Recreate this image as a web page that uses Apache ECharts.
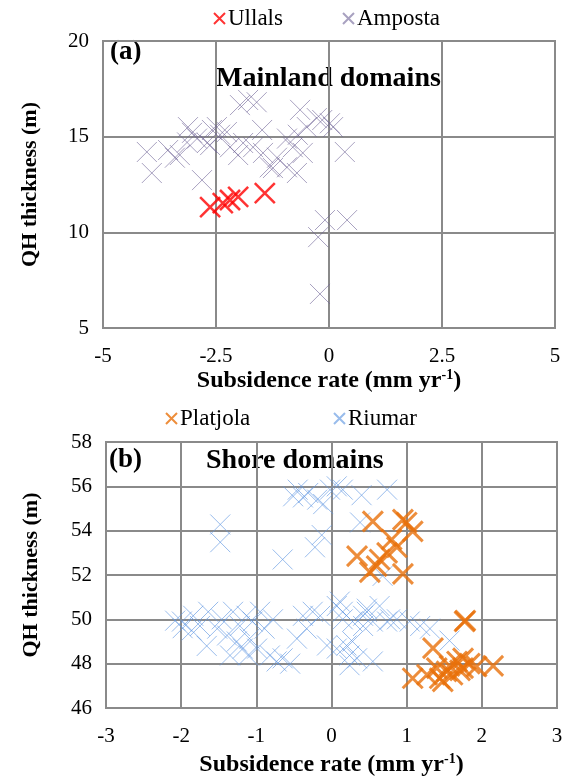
<!DOCTYPE html>
<html>
<head>
<meta charset="utf-8">
<script src="https://cdn.jsdelivr.net/npm/echarts@6/dist/echarts.min.js"></script>
<style>
  html, body { margin: 0; padding: 0; background: #fff; }
  #chart { width: 567px; height: 778px; }
</style>
</head>
<body>
<div id="chart"></div>
<script>
// (a) mainland domains
const ullals = [[-2.63, 11.32], [-2.35, 11.53], [-2.19, 11.69], [-2.01, 11.85], [-1.42, 12.05]];
const amposta = [
  [-1.79, 16.92], [-1.97, 16.65], [-1.6, 16.8], [-0.64, 16.4], [-0.27, 15.97], [0.02, 15.7],
  [-0.15, 15.87], [0.09, 15.5], [0.35, 14.2], [-4.03, 14.2], [-3.92, 13.1], [-3.56, 14.3],
  [-3.3, 14.04], [-3.12, 15.5], [-3.03, 15.2], [-2.92, 14.9], [-2.81, 12.73], [-2.7, 14.67],
  [-2.59, 15.35], [-2.48, 15.5], [-2.41, 15.1], [-2.63, 14.56], [-2.19, 14.45], [-2.01, 14.04],
  [-1.9, 14.67], [-1.68, 14.45], [-1.48, 15.35], [-1.46, 14.15], [-1.31, 13.4], [-1.15, 13.9],
  [-0.93, 14.9], [-0.8, 14.45], [-0.69, 15.1], [-0.58, 14.15], [-0.49, 15.5], [-0.93, 13.4],
  [-1.24, 13.36], [-3.14, 14.7], [-3.41, 13.9], [-0.71, 13.1], [-2.26, 15.24],
  [-0.09, 10.64], [0.4, 10.64], [-0.24, 9.75], [-0.2, 6.78]
];

// (b) shore domains
const platjola = [
  [0.55, 54.42], [0.95, 54.5], [1.0, 54.37], [1.08, 53.97], [0.34, 52.85], [0.8, 53.6],
  [0.87, 53.25], [0.74, 53.0], [0.64, 52.7], [0.51, 52.13], [0.95, 52.05], [0.6, 52.4],
  [1.77, 49.9], [1.78, 49.95], [1.35, 48.7], [1.08, 47.34], [2.15, 47.9], [1.27, 47.5],
  [1.4, 47.8], [1.48, 47.2], [1.57, 47.9], [1.67, 48.1], [1.75, 48.24], [1.84, 48.0],
  [1.71, 47.7], [1.61, 47.5], [1.53, 47.65], [1.93, 47.87], [1.44, 47.34], [1.75, 47.8]
];
const riumar = [
  [-1.48, 54.28], [-1.48, 53.48], [-0.65, 52.7], [-0.22, 53.25], [-0.13, 53.8], [-0.51, 55.55],
  [-0.45, 55.85], [-0.38, 55.5], [-0.31, 55.7], [-0.19, 55.4], [-0.11, 55.2], [-0.02, 55.85],
  [0.07, 56.0], [0.15, 55.85], [0.4, 55.6], [0.38, 54.37], [0.74, 55.85], [0.68, 51.96],
  [-2.08, 49.94], [-1.99, 49.9], [-1.84, 50.16], [-1.75, 49.7], [-1.64, 50.34], [-1.66, 48.8],
  [-1.52, 49.58], [-1.46, 50.0], [-1.39, 49.27], [-1.35, 48.37], [-1.31, 50.34], [-1.26, 49.0],
  [-1.22, 49.7], [-1.18, 48.68], [-1.13, 50.16], [-1.11, 48.37], [-1.09, 49.13], [-1.05, 49.9],
  [-0.99, 48.68], [-0.95, 50.34], [-0.89, 49.58], [-0.78, 50.0], [-0.82, 48.37], [-0.73, 48.1],
  [-0.65, 48.24], [-0.55, 48.0], [-0.46, 49.13], [-0.38, 50.16], [-0.33, 49.58], [-0.25, 50.34],
  [-0.15, 50.16], [-0.06, 48.82], [0.07, 50.6], [0.11, 50.8], [0.15, 50.0], [0.24, 48.37],
  [0.28, 49.0], [0.42, 50.16], [0.47, 50.48], [0.55, 49.9], [-1.86, 49.5], [-1.98, 49.6],
  [0.15, 50.34], [0.47, 50.34], [0.64, 50.6], [0.74, 49.9], [0.87, 50.0], [1.04, 49.9],
  [1.18, 49.7], [1.31, 49.58], [1.57, 49.04], [0.2, 48.82], [0.34, 48.24], [0.55, 48.1],
  [0.24, 47.93], [0.07, 48.68], [0.42, 49.7], [0.28, 49.9], [0.78, 50.0]
];

const topXTicks = { min: -5, max: 5, interval: 2.5 };
const topYTicks = { min: 5, max: 20, interval: 5 };
const botXTicks = { min: -3, max: 3, interval: 1 };
const botYTicks = { min: 46, max: 58, interval: 2 };

const font = 'Liberation Serif';
const gridColor = '#8a8a8a';
const cross = 'path://M0,0L20,20M20,0L0,20';

const chart = echarts.init(document.getElementById('chart'));

function xAxis(idx, t, gap) {
  return {
    type: 'value', gridIndex: idx, min: t.min, max: t.max, interval: t.interval,
    axisLine: { show: true, lineStyle: { color: gridColor, width: 2 } },
    axisTick: { show: false },
    splitLine: { show: true, lineStyle: { color: gridColor, width: 2 } },
    axisLabel: { color: '#000', fontFamily: font, fontSize: 21, margin: 18 },
    name: '{a|Subsidence rate (mm yr}{s|-1}{a|)}',
    nameLocation: 'middle', nameGap: gap,
    nameTextStyle: {
      rich: {
        a: { fontFamily: font, fontSize: 24, fontWeight: 'bold', color: '#000' },
        s: { fontFamily: font, fontSize: 14, fontWeight: 'bold', color: '#000', verticalAlign: 'top', padding: [0, 0, 12, 0] }
      }
    }
  };
}

function yAxis(idx, t, gap) {
  return {
    type: 'value', gridIndex: idx, min: t.min, max: t.max, interval: t.interval,
    axisLine: { show: true, lineStyle: { color: gridColor, width: 2 } },
    axisTick: { show: false },
    splitLine: { show: true, lineStyle: { color: gridColor, width: 2 } },
    axisLabel: { color: '#000', fontFamily: font, fontSize: 21, margin: 14 },
    name: 'QH thickness (m)', nameLocation: 'middle', nameGap: gap,
    nameTextStyle: { fontFamily: font, fontSize: 22, fontWeight: 'bold', color: '#000' }
  };
}

function legend(name, left, top) {
  return {
    data: [name], left: left, top: top, itemWidth: 11, itemHeight: 11, itemGap: 0,
    textStyle: { fontFamily: font, fontSize: 23, color: '#000', padding: [0, 0, 0, -2] }
  };
}

function series(name, data, color, width, xi) {
  return {
    name: name, type: 'scatter', xAxisIndex: xi, yAxisIndex: xi,
    data: data, symbol: cross, symbolSize: 20,
    itemStyle: { color: 'rgba(0,0,0,0)', borderColor: color, borderWidth: width },
    emphasis: { disabled: true }
  };
}

const option = {
  animation: false,
  backgroundColor: '#fff',
  grid: [
    { left: 103, right: 12, top: 41, height: 287, show: true, borderColor: gridColor, borderWidth: 2 },
    { left: 106, right: 10, top: 442, height: 268, show: true, borderColor: gridColor, borderWidth: 2 }
  ],
  legend: [
    legend('Ullals', 208, 2),
    legend('Amposta', 337, 2),
    legend('Platjola', 160, 402),
    legend('Riumar', 328, 402)
  ],
  xAxis: [xAxis(0, topXTicks, 40), xAxis(1, botXTicks, 44)],
  yAxis: [yAxis(0, topYTicks, 62), yAxis(1, botYTicks, 64)],
  series: [
    series('Amposta', amposta, 'rgba(110,98,150,0.75)', 1, 0),
    series('Ullals', ullals, '#ff0000', 2.5, 0),
    series('Riumar', riumar, 'rgba(95,150,225,0.8)', 1, 1),
    series('Platjola', platjola, '#e8700a', 3, 1)
  ],
  graphic: [
    { type: 'text', left: 110, top: 39, style: { text: '(a)', fontFamily: font, fontSize: 27, fontWeight: 'bold', fill: '#000' } },
    { type: 'text', left: 216, top: 65, style: { text: 'Mainland domains', fontFamily: font, fontSize: 28, fontWeight: 'bold', fill: '#000' } },
    { type: 'text', left: 109, top: 447, style: { text: '(b)', fontFamily: font, fontSize: 27, fontWeight: 'bold', fill: '#000' } },
    { type: 'text', left: 206, top: 447, style: { text: 'Shore domains', fontFamily: font, fontSize: 28, fontWeight: 'bold', fill: '#000' } }
  ]
};

chart.setOption(option);
</script>
</body>
</html>
